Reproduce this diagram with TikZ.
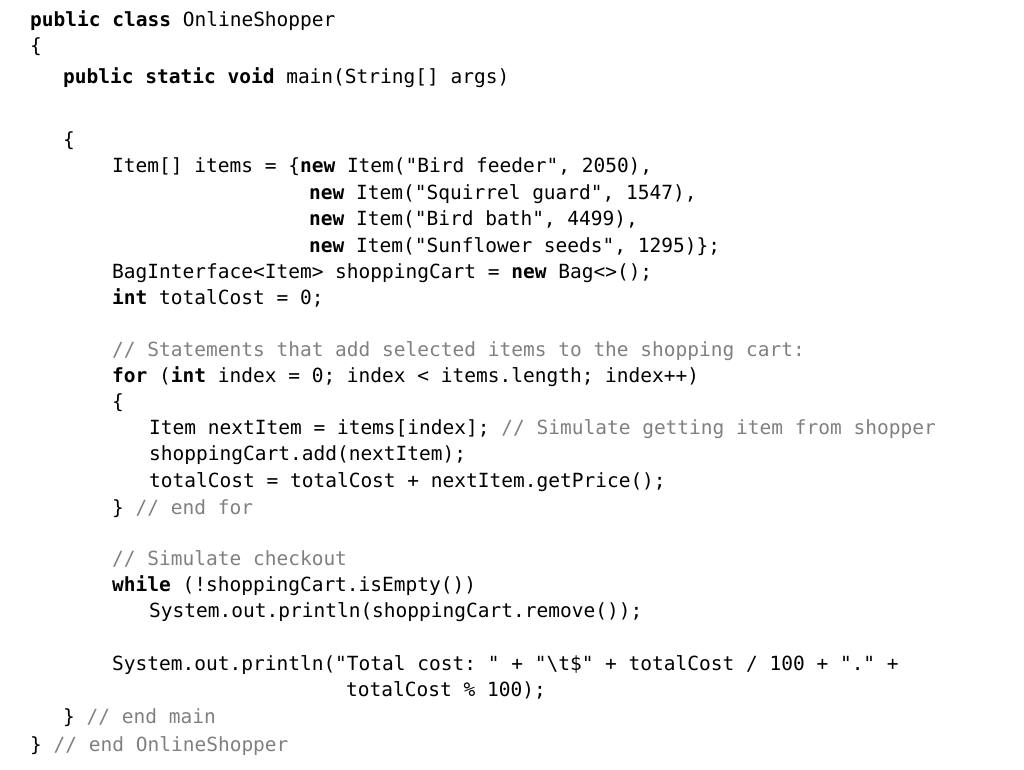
\documentclass[tikz,border=0pt]{standalone}
\usepackage{fontspec}
\setmonofont{DejaVu Sans Mono}
\definecolor{cmt}{gray}{0.5}
\newcommand{\kw}[1]{\textbf{#1}}
\newcommand{\cm}[1]{\textcolor{cmt}{#1}}
\begin{document}
\begin{tikzpicture}[x=1pt,y=-1pt,
  ln/.style={anchor=base west,inner sep=0pt,font=\ttfamily\fontsize{19.5}{21}\selectfont}]
\useasboundingbox (0,0) rectangle (1024,770);
\node[ln] (l1) at (30,27) {\kw{public class} OnlineShopper};
\node[ln] (l2) at (30,53) {\{};
\node[ln] (l3) at (63,84) {\kw{public static void} main(String[] args)};
\node[ln] (l4) at (63,147) {\{};
\node[ln] (l5) at (112,172) {Item[] items = \{\kw{new} Item("Bird feeder", 2050),};
\node[ln] (l6) at (309,199) {\kw{new} Item("Squirrel guard", 1547),};
\node[ln] (l7) at (309,225) {\kw{new} Item("Bird bath", 4499),};
\node[ln] (l8) at (309,252) {\kw{new} Item("Sunflower seeds", 1295)\};};
\node[ln] (l9) at (112,278) {BagInterface<Item> shoppingCart = \kw{new} Bag<>();};
\node[ln] (l10) at (112,304) {\kw{int} totalCost = 0;};
\node[ln] (l11) at (112,356) {\cm{// Statements that add selected items to the shopping cart:}};
\node[ln] (l12) at (112,382) {\kw{for} (\kw{int} index = 0; index < items.length; index++)};
\node[ln] (l13) at (112,408) {\{};
\node[ln] (l14) at (149,434) {Item nextItem = items[index]; \cm{// Simulate getting item from shopper}};
\node[ln] (l15) at (149,460) {shoppingCart.add(nextItem);};
\node[ln] (l16) at (149,487) {totalCost = totalCost + nextItem.getPrice();};
\node[ln] (l17) at (112,514) {\} \cm{// end for}};
\node[ln] (l18) at (112,565) {\cm{// Simulate checkout}};
\node[ln] (l19) at (112,591) {\kw{while} (!shoppingCart.isEmpty())};
\node[ln] (l20) at (149,617) {System.out.println(shoppingCart.remove());};
\node[ln] (l21) at (112,670) {System.out.println("Total cost: " + "\textbackslash t\$" + totalCost / 100 + "." +};
\node[ln] (l22) at (346,696) {totalCost \% 100);};
\node[ln] (l23) at (63,723) {\} \cm{// end main}};
\node[ln] (l24) at (30,751) {\} \cm{// end OnlineShopper}};
\end{tikzpicture}
\end{document}
